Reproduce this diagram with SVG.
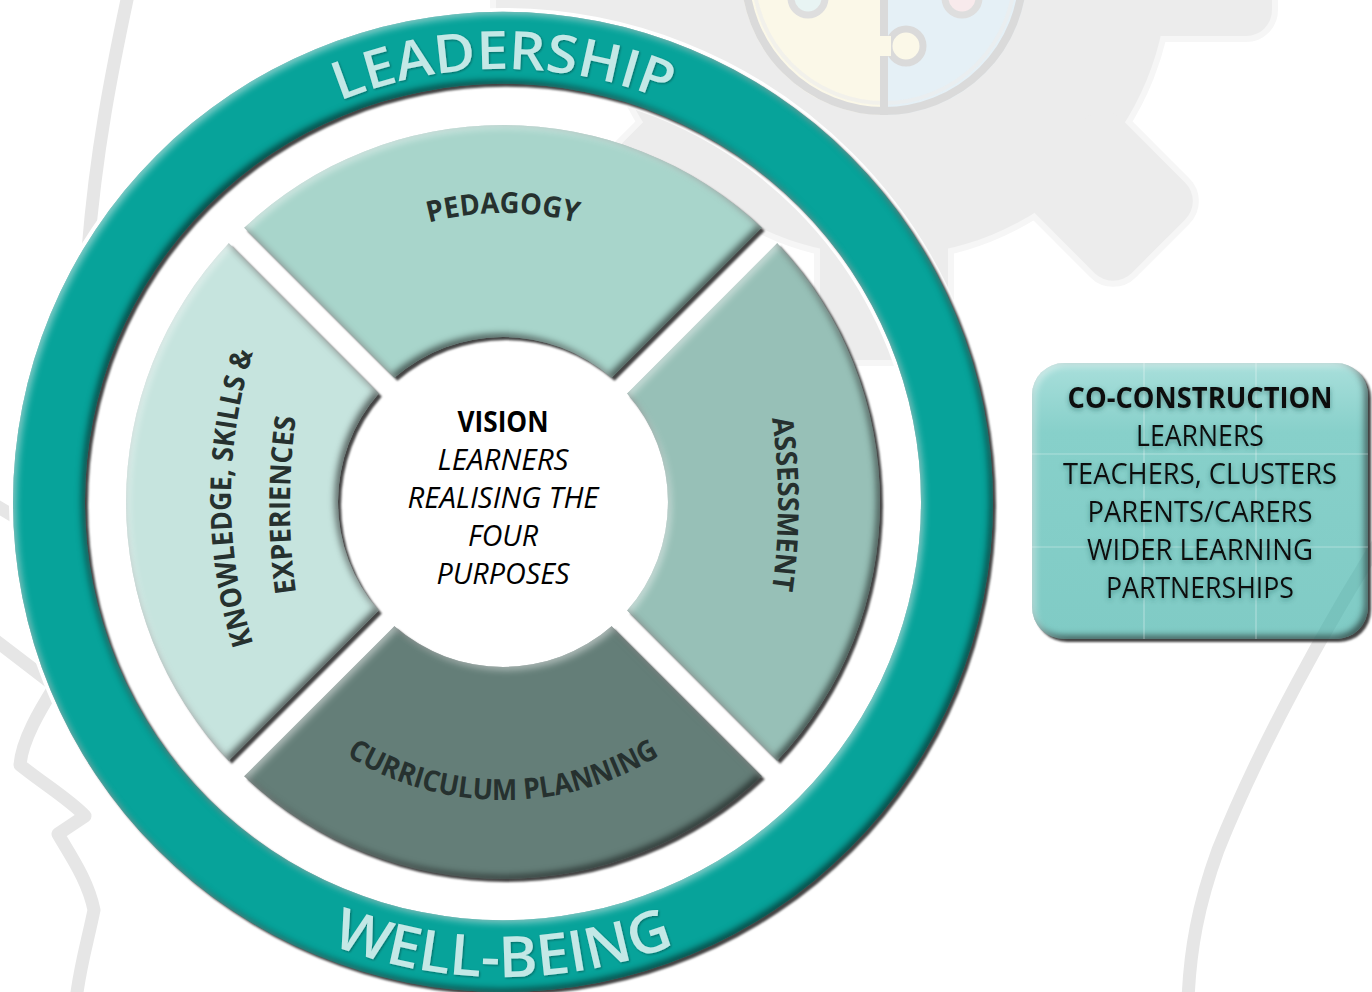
<svg xmlns="http://www.w3.org/2000/svg" width="1372" height="992" viewBox="0 0 1372 992">
<defs>
<style>
.bg{fill:none;stroke:#e6e6e6;stroke-width:13;stroke-linecap:round;stroke-linejoin:round}
.ringtxt{font-family:'Open Sans','Liberation Sans',sans-serif;font-weight:600;fill:#c3e8e6}
.lbl{font-family:'Open Sans','Liberation Sans',sans-serif;font-weight:700;font-size:29px;fill:#26312f}
.ctr{font-family:'Open Sans','Liberation Sans',sans-serif;font-size:29px;fill:#000;text-anchor:middle}
.box{font-family:'Open Sans','Liberation Sans',sans-serif;font-size:29px;fill:#111;text-anchor:middle}
</style>
<filter id="bevel" x="-5%" y="-5%" width="110%" height="110%" color-interpolation-filters="sRGB">
  <feGaussianBlur in="SourceAlpha" stdDeviation="1.2" result="sb"/>
  <feOffset in="sb" dx="2.5" dy="3" result="so"/>
  <feFlood flood-color="#3a3a3a" flood-opacity="0.95"/>
  <feComposite in2="so" operator="in" result="drop"/>
  <feComponentTransfer in="SourceAlpha" result="inv"><feFuncA type="table" tableValues="1 0"/></feComponentTransfer>
  <feGaussianBlur in="inv" stdDeviation="3.5" result="ib"/>
  <feOffset in="ib" dx="-3" dy="-3" result="ibd"/>
  <feFlood flood-color="#000" flood-opacity="0.6"/>
  <feComposite in2="ibd" operator="in"/>
  <feComposite in2="SourceAlpha" operator="in" result="inDark"/>
  <feOffset in="ib" dx="3" dy="3" result="ibl"/>
  <feFlood flood-color="#fff" flood-opacity="0.5"/>
  <feComposite in2="ibl" operator="in"/>
  <feComposite in2="SourceAlpha" operator="in" result="inLight"/>
  <feMerge><feMergeNode in="drop"/><feMergeNode in="SourceGraphic"/><feMergeNode in="inDark"/><feMergeNode in="inLight"/></feMerge>
</filter>
<filter id="glow" x="-10%" y="-30%" width="120%" height="160%">
  <feGaussianBlur in="SourceAlpha" stdDeviation="2.5" result="b"/>
  <feOffset in="b" dx="0" dy="2" result="o"/>
  <feFlood flood-color="#1c4a47" flood-opacity="0.45"/>
  <feComposite in2="o" operator="in" result="s"/>
  <feMerge><feMergeNode in="s"/><feMergeNode in="SourceGraphic"/></feMerge>
</filter>
<filter id="tsh" x="-10%" y="-30%" width="120%" height="160%">
  <feGaussianBlur in="SourceAlpha" stdDeviation="0.8" result="b"/>
  <feOffset in="b" dx="1" dy="1" result="o"/>
  <feFlood flood-color="#000" flood-opacity="0.35"/>
  <feComposite in2="o" operator="in" result="s"/>
  <feMerge><feMergeNode in="s"/><feMergeNode in="SourceGraphic"/></feMerge>
</filter>
<linearGradient id="boxg" x1="0" y1="0" x2="0" y2="1">
  <stop offset="0" stop-color="#a9dfdb"/>
  <stop offset="0.25" stop-color="#87d0ca"/>
  <stop offset="1" stop-color="#80cbc5"/>
</linearGradient>
<clipPath id="boxclip"><rect x="1032" y="363" width="336" height="276" rx="32"/></clipPath>
<path id="arcTop" d="M 70,502 A 433 433 0 0 1 936,502"/>
<path id="arcBot" d="M 28,502 A 475 475 0 0 0 978,502"/>
<path id="arcPed" d="M 214,502 A 289 289 0 0 1 792,502"/>
<path id="arcCur" d="M 205,502 A 298 298 0 0 0 801,502"/>
<path id="arcAss" d="M 743.7,304 A 600 600 0 0 1 743.7,704"/>
<path id="arcKno" d="M 273.7,698 A 490 490 0 0 1 273.7,298"/>
<path id="arcExp" d="M 307.7,655 A 645 645 0 0 1 307.7,355"/>
</defs>

<rect width="1372" height="992" fill="#fff"/>

<g id="background">
  <g id="gear">
    <g fill="#f6f6f6" stroke="#f6f6f6" stroke-width="12">
      <circle cx="884" cy="-28" r="284"/>
      <rect x="1130" y="-92" width="142" height="128" rx="26" transform="rotate(0 884 -28)"/>
      <rect x="1130" y="-92" width="142" height="128" rx="26" transform="rotate(45 884 -28)"/>
      <rect x="1130" y="-92" width="142" height="128" rx="26" transform="rotate(90 884 -28)"/>
      <rect x="1130" y="-92" width="142" height="128" rx="26" transform="rotate(135 884 -28)"/>
      <rect x="1130" y="-92" width="142" height="128" rx="26" transform="rotate(180 884 -28)"/>
    </g>
    <g fill="#ececec">
      <circle cx="884" cy="-28" r="284"/>
      <rect x="1130" y="-92" width="142" height="128" rx="26" transform="rotate(0 884 -28)"/>
      <rect x="1130" y="-92" width="142" height="128" rx="26" transform="rotate(45 884 -28)"/>
      <rect x="1130" y="-92" width="142" height="128" rx="26" transform="rotate(90 884 -28)"/>
      <rect x="1130" y="-92" width="142" height="128" rx="26" transform="rotate(135 884 -28)"/>
      <rect x="1130" y="-92" width="142" height="128" rx="26" transform="rotate(180 884 -28)"/>
    </g>
  </g>
  <g id="puzzle">
    <path d="M 884,-171 A 143 143 0 0 0 884,115 Z" fill="#fbf8e8"/>
    <path d="M 884,-171 A 143 143 0 0 1 884,115 Z" fill="#e5f0f6"/>
    <circle cx="884" cy="-28" r="139" fill="none" stroke="#dadada" stroke-width="8"/>
    <circle cx="884" cy="-28" r="131" fill="none" stroke="#ececec" stroke-width="4" opacity="0.6"/>
    <line x1="884" y1="-171" x2="884" y2="115" stroke="#dadada" stroke-width="8"/>
    <circle cx="906" cy="46" r="17" fill="#fbf8e8" stroke="#dadada" stroke-width="7"/>
    <rect x="879" y="36" width="12" height="20" fill="#fbf8e8"/>
    <circle cx="808" cy="-2" r="17" fill="#e8f4f3" stroke="#dedede" stroke-width="7"/>
    <circle cx="962" cy="-2" r="17" fill="#f8eaec" stroke="#dedede" stroke-width="7"/>
  </g>
  <g id="head-outline">
    <path class="bg" d="M 128,-5 C 112,70 96,150 88,250"/>
    <path class="bg" d="M -5,505 L 20,520"/>
    <path class="bg" d="M -5,640 L 55,686 C 40,710 22,740 20,765 C 45,785 70,800 85,816 L 58,834 C 70,855 88,880 94,910 C 88,940 80,965 76,1000"/>
    <path class="bg" d="M 1380,540 C 1330,620 1262,740 1218,850 C 1198,905 1190,950 1188,1000"/>
  </g>
</g>

<g id="ring">
  <circle cx="503" cy="502" r="454" fill="none" stroke="#ffffff" stroke-width="80"/>
  <path d="M 13,502 A 490 490 0 1 0 993,502 A 490 490 0 1 0 13,502 Z M 85,502 A 418 418 0 1 0 921,502 A 418 418 0 1 0 85,502 Z" fill="#07a39a" fill-rule="evenodd" filter="url(#bevel)"/>
  <text class="ringtxt" font-size="53" text-anchor="middle" filter="url(#tsh)"><textPath href="#arcTop" startOffset="50%" textLength="335" lengthAdjust="spacingAndGlyphs">LEADERSHIP</textPath></text>
  <text class="ringtxt" font-size="57" text-anchor="middle" filter="url(#tsh)"><textPath href="#arcBot" startOffset="50%" textLength="352" lengthAdjust="spacingAndGlyphs">WELL-BEING</textPath></text>
</g>

<g id="pedagogy">
  <path d="M 244.3,227.8 A 377 377 0 0 1 761.7,227.8 L 611.6,377.8 A 165 165 0 0 0 394.4,377.8 Z" fill="#a8d5cb" filter="url(#bevel)"/>
  <text class="lbl" text-anchor="middle"><textPath href="#arcPed" startOffset="50%" textLength="150" lengthAdjust="spacingAndGlyphs">PEDAGOGY</textPath></text>
</g>

<g id="assessment">
  <path d="M 777.2,243.3 A 377 377 0 0 1 777.2,760.7 L 627.2,610.6 A 165 165 0 0 0 627.2,393.4 Z" fill="#97c0b7" filter="url(#bevel)"/>
  <text class="lbl" text-anchor="middle"><textPath href="#arcAss" startOffset="50%" textLength="172" lengthAdjust="spacingAndGlyphs">ASSESSMENT</textPath></text>
</g>

<g id="curriculum">
  <path d="M 761.7,776.2 A 377 377 0 0 1 244.3,776.2 L 394.4,626.2 A 165 165 0 0 0 611.6,626.2 Z" fill="#647e78" filter="url(#bevel)"/>
  <text class="lbl" text-anchor="middle" fill="#1e2826"><textPath href="#arcCur" startOffset="50%" textLength="330" lengthAdjust="spacingAndGlyphs">CURRICULUM PLANNING</textPath></text>
</g>

<g id="knowledge">
  <path d="M 228.8,760.7 A 377 377 0 0 1 228.8,243.3 L 378.8,393.4 A 165 165 0 0 0 378.8,610.6 Z" fill="#c6e4de" filter="url(#bevel)"/>
  <text class="lbl" text-anchor="middle"><textPath href="#arcKno" startOffset="50%" textLength="296" lengthAdjust="spacingAndGlyphs">KNOWLEDGE, SKILLS &amp;</textPath></text>
  <text class="lbl" text-anchor="middle"><textPath href="#arcExp" startOffset="50%" textLength="176" lengthAdjust="spacingAndGlyphs">EXPERIENCES</textPath></text>
</g>

<g id="vision">
  <text class="ctr" x="503" y="432" font-weight="bold" textLength="91" lengthAdjust="spacingAndGlyphs">VISION</text>
  <text class="ctr" x="503" y="470" font-style="italic" textLength="131" lengthAdjust="spacingAndGlyphs">LEARNERS</text>
  <text class="ctr" x="503" y="508" font-style="italic" textLength="191" lengthAdjust="spacingAndGlyphs">REALISING THE</text>
  <text class="ctr" x="503" y="546" font-style="italic" textLength="70" lengthAdjust="spacingAndGlyphs">FOUR</text>
  <text class="ctr" x="503" y="584" font-style="italic" textLength="133" lengthAdjust="spacingAndGlyphs">PURPOSES</text>
</g>

<g id="co-construction">
  <rect x="1032" y="363" width="336" height="276" rx="32" fill="url(#boxg)" filter="url(#bevel)"/>
  <g clip-path="url(#boxclip)" stroke="#ffffff" stroke-opacity="0.35" stroke-width="1.2">
    <line x1="1144" y1="363" x2="1144" y2="639"/>
    <line x1="1256" y1="363" x2="1256" y2="639"/>
    <line x1="1032" y1="454" x2="1368" y2="454"/>
    <line x1="1032" y1="547" x2="1368" y2="547"/>
    <path d="M 1380,540 C 1330,620 1262,740 1218,850" fill="none" stroke="#1b5f5a" stroke-opacity="0.08" stroke-width="13"/>
  </g>
  <g filter="url(#glow)">
    <text class="box" x="1200" y="408" font-weight="bold" textLength="265" lengthAdjust="spacingAndGlyphs">CO-CONSTRUCTION</text>
    <text class="box" x="1200" y="446" textLength="128" lengthAdjust="spacingAndGlyphs">LEARNERS</text>
    <text class="box" x="1200" y="484" textLength="274" lengthAdjust="spacingAndGlyphs">TEACHERS, CLUSTERS</text>
    <text class="box" x="1200" y="522" textLength="225" lengthAdjust="spacingAndGlyphs">PARENTS/CARERS</text>
    <text class="box" x="1200" y="560" textLength="226" lengthAdjust="spacingAndGlyphs">WIDER LEARNING</text>
    <text class="box" x="1200" y="598" textLength="188" lengthAdjust="spacingAndGlyphs">PARTNERSHIPS</text>
  </g>
</g>
</svg>
